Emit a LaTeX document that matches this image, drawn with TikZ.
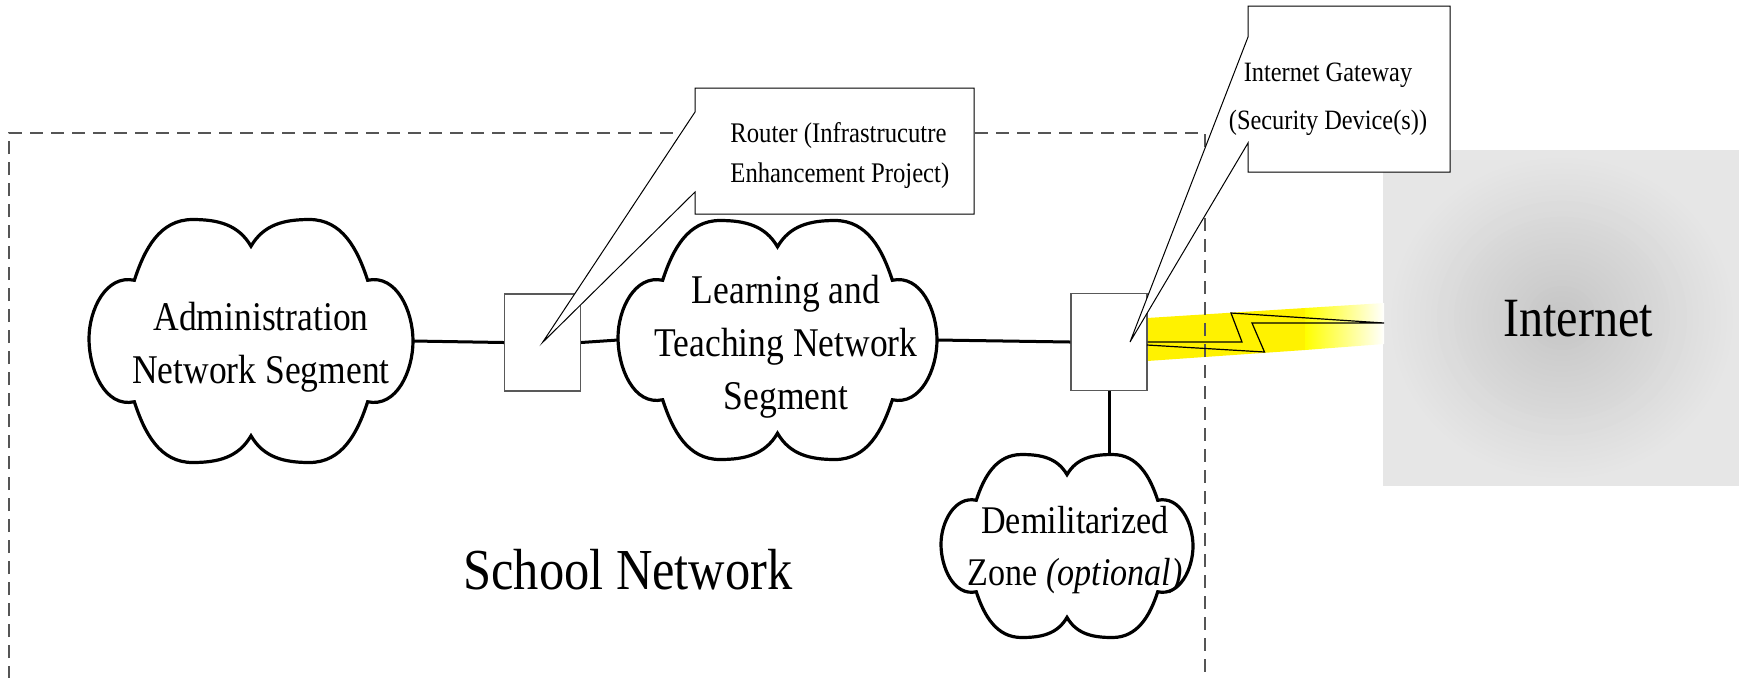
\documentclass[tikz,border=0pt]{standalone}
\usepackage{fontspec}
\setmainfont{Liberation Serif}[FakeStretch=0.87]
\definecolor{inetbg}{HTML}{E6E6E6}
\definecolor{inetmid}{HTML}{C6C6C6}
\definecolor{dashgray}{HTML}{555555}
% cloud outline around a named node; #2, #3 = half width / half height
\newcommand{\netcloudpath}[3]{%
  \begin{scope}[shift={(#1.center)}, x=#2, y=#3]
  \draw[cloudline] (0,0.78) to[out=120,in=0] (-0.36,1) to[out=180,in=72] (-0.72,0.5)
    to[out=168,in=90] (-1,0.02) to[out=-90,in=192] (-0.72,-0.5)
    to[out=-72,in=180] (-0.36,-1) to[out=0,in=-120] (0,-0.78)
    to[out=-60,in=180] (0.36,-1) to[out=0,in=-108] (0.72,-0.5)
    to[out=-12,in=-90] (1,0) to[out=90,in=12] (0.72,0.5)
    to[out=108,in=0] (0.36,1) to[out=180,in=60] cycle;
  \end{scope}}
\begin{document}
\begin{tikzpicture}[x=0.5pt,y=-0.5pt,
  cloudline/.style={draw, line width=1.6pt, fill=white},
  cloudarea/.style={inner sep=0pt, outer sep=0pt},
  devbox/.style={draw=black!65, line width=0.6pt, fill=white, minimum width=38pt, minimum height=48.5pt, inner sep=0pt},
  link/.style={line width=1.5pt},
  boltline/.style={line width=0.6pt},
  callout/.style={draw=black, line width=0.5pt, fill=white},
  schoolbox/.style={draw=dashgray, line width=0.6pt, dash pattern=on 6.5pt off 4pt},
  cloudtext/.style={font=\rmfamily\fontsize{20.4}{26.5}\selectfont, align=center, inner sep=0pt},
  dmztext/.style={font=\rmfamily\fontsize{19.6}{26}\selectfont, align=center, inner sep=0pt},
  callouttext/.style={font=\rmfamily\fontsize{14.2}{20}\selectfont, inner sep=0pt},
]
\useasboundingbox (0,0) rectangle (1745,677);
% Internet
\node[fill=inetbg, minimum width=178pt, minimum height=168pt, inner sep=0pt] (inet) at (1561,318) {};
\foreach \i in {0,...,30}{
  \pgfmathsetmacro\rr{1-\i/31}
  \pgfmathtruncatemacro\pp{100*\i/30}
  \fill[inetmid!\pp!inetbg] (1562,318) ellipse ({176*\rr} and {165*\rr});
}
\node[font=\rmfamily\fontsize{27.7}{33}\selectfont, inner sep=0pt] (inettext) at (1578,319) {Internet};
% yellow glow
\fill[yellow] (1147,318) -- (1305,308) -- (1305,350) -- (1147,361) -- cycle;
\shade[left color=yellow, right color=white] (1305,308) -- (1384,303) -- (1384,344) -- (1305,350) -- cycle;
% school network boundary
\draw[schoolbox] (9,700) -- (9,133) -- (1205,133) -- (1205,700);
\node[font=\rmfamily\fontsize{29}{35}\selectfont, inner sep=0pt] (school) at (628,570) {School Network};
% devices
\node[devbox] (router) at (542.5,342.5) {};
\node[devbox] (gw) at (1109,342) {};
% clouds
\node[cloudarea, minimum width=162pt, minimum height=121.5pt] (admin) at (251,341) {};
\node[cloudarea, minimum width=159.5pt, minimum height=119.5pt] (lt) at (777.5,340) {};
\node[cloudarea, minimum width=126pt, minimum height=91.5pt] (dmz) at (1067,546) {};
\netcloudpath{admin}{81pt}{60.75pt}
\netcloudpath{lt}{79.75pt}{59.75pt}
\netcloudpath{dmz}{63pt}{45.75pt}
\node[cloudtext] (admintext) at (261,347) {Administration\\Network Segment};
\node[cloudtext] (lttext) at (786,347) {Learning and\\Teaching Network\\Segment};
\node[dmztext] (dmztxt) at (1075,550) {Demilitarized\\Zone \textit{(optional)}};
% links
\draw[link] (admin.east) -- (router.west);
\draw[link] (router.east) -- (lt.west);
\draw[link] (lt.east) -- (gw.west);
\draw[link] (gw.south) -- (gw.south |- dmz.north);
% lightning
\coordinate (boltend) at (1384,323);
\draw[boltline] (gw.east) -- (1242,342) -- (1231,313) -- (boltend) -- (1252,323) -- (1264.5,352) -- (1147,345);
% callouts
\draw[callout] (695,88) -- (974,88) -- (974,214) -- (695,214) -- (695,192) -- (router.center) -- (695,112) -- cycle;
\draw[callout] (1248,6) -- (1450,6) -- (1450,172) -- (1248,172) -- (1248,143) -- ([xshift=10.5pt]gw.center) -- (1248,37) -- cycle;
\node[callouttext, anchor=west, align=left] (routertext) at (730,155.5) {Router (Infrastrucutre\\Enhancement Project)};
\node[callouttext, font=\rmfamily\fontsize{14}{24}\selectfont, align=center] (gwtext) at (1328,99.5) {Internet Gateway\\(Security Device(s))};
\end{tikzpicture}
\end{document}
